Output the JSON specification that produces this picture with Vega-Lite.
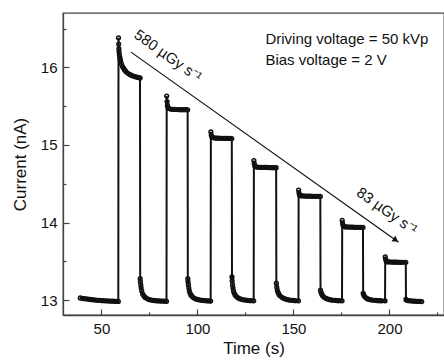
{
  "$schema": "https://vega.github.io/schema/vega-lite/v6.json",
  "autosize": "none",
  "padding": {"left": 63, "top": 13, "right": 0, "bottom": 47},
  "width": 381,
  "height": 302,
  "background": "white",
  "config": {
    "view": {"stroke": "#444", "strokeWidth": 1.3},
    "axis": {
      "grid": false,
      "labelFont": "Liberation Sans",
      "labelFontSize": 15,
      "labelColor": "#111",
      "titleFont": "Liberation Sans",
      "titleFontSize": 17,
      "titleFontWeight": "normal",
      "titleColor": "#111",
      "domainColor": "#444",
      "domainWidth": 1.3,
      "tickColor": "#444",
      "tickWidth": 1.2
    }
  },
  "datasets": {
    "series": [
      {"t":39,"c":13.03},{"t":40,"c":13.025},{"t":41,"c":13.02},{"t":42,"c":13.018},{"t":43,"c":13.015},{"t":44,"c":13.01},{"t":45,"c":13.008},{"t":46,"c":13.005},{"t":47,"c":13.002},{"t":48,"c":13.0},{"t":49,"c":12.998},{"t":50,"c":12.996},{"t":51,"c":12.995},{"t":52,"c":12.993},{"t":53,"c":12.992},{"t":54,"c":12.99},{"t":55,"c":12.99},{"t":56,"c":12.988},{"t":57,"c":12.987},{"t":58,"c":12.986},{"t":58.8,"c":12.985},
      {"t":58.9,"c":16.38},{"t":59.0,"c":16.3},{"t":59.1,"c":16.24},{"t":59.2,"c":16.2},{"t":59.4,"c":16.16},{"t":59.6,"c":16.13},{"t":59.8,"c":16.1},{"t":60,"c":16.08},{"t":60.5,"c":16.04},{"t":61,"c":16.01},{"t":61.5,"c":15.99},{"t":62,"c":15.97},{"t":62.5,"c":15.955},{"t":63,"c":15.94},{"t":64,"c":15.92},{"t":65,"c":15.905},{"t":66,"c":15.893},{"t":67,"c":15.884},{"t":68,"c":15.876},{"t":69,"c":15.87},{"t":70,"c":15.865},{"t":70.1,"c":15.862},
      {"t":70.2,"c":13.28},{"t":70.3,"c":13.24},{"t":70.5,"c":13.2},{"t":70.7,"c":13.16},{"t":71,"c":13.12},{"t":71.5,"c":13.08},{"t":72,"c":13.06},{"t":72.5,"c":13.045},{"t":73,"c":13.033},{"t":74,"c":13.018},{"t":75,"c":13.008},{"t":76,"c":13.002},{"t":77,"c":12.998},{"t":78,"c":12.995},{"t":79,"c":12.993},{"t":80,"c":12.991},{"t":81,"c":12.99},{"t":82,"c":12.989},{"t":83,"c":12.988},{"t":83.9,"c":12.987},
      {"t":84.0,"c":15.63},{"t":84.2,"c":15.56},{"t":84.4,"c":15.51},{"t":84.7,"c":15.48},{"t":85,"c":15.47},{"t":86,"c":15.462},{"t":87,"c":15.46},{"t":88,"c":15.458},{"t":89,"c":15.457},{"t":90,"c":15.456},{"t":91,"c":15.455},{"t":92,"c":15.455},{"t":93,"c":15.454},{"t":94,"c":15.454},{"t":94.9,"c":15.453},
      {"t":95.0,"c":13.28},{"t":95.1,"c":13.24},{"t":95.3,"c":13.2},{"t":95.5,"c":13.16},{"t":95.8,"c":13.12},{"t":96.2,"c":13.09},{"t":96.7,"c":13.065},{"t":97.2,"c":13.05},{"t":98,"c":13.032},{"t":99,"c":13.018},{"t":100,"c":13.01},{"t":101,"c":13.004},{"t":102,"c":13.0},{"t":103,"c":12.997},{"t":104,"c":12.995},{"t":105,"c":12.993},{"t":106,"c":12.991},{"t":106.9,"c":12.99},
      {"t":107.0,"c":15.17},{"t":107.2,"c":15.13},{"t":107.5,"c":15.105},{"t":108,"c":15.095},{"t":109,"c":15.09},{"t":110,"c":15.088},{"t":111,"c":15.087},{"t":112,"c":15.086},{"t":113,"c":15.086},{"t":114,"c":15.085},{"t":115,"c":15.085},{"t":116,"c":15.084},{"t":117,"c":15.084},{"t":117.9,"c":15.083},
      {"t":118.0,"c":13.3},{"t":118.1,"c":13.25},{"t":118.3,"c":13.2},{"t":118.5,"c":13.16},{"t":118.8,"c":13.12},{"t":119.2,"c":13.09},{"t":119.7,"c":13.065},{"t":120.2,"c":13.05},{"t":121,"c":13.033},{"t":122,"c":13.02},{"t":123,"c":13.012},{"t":124,"c":13.006},{"t":125,"c":13.002},{"t":126,"c":12.999},{"t":127,"c":12.996},{"t":128,"c":12.994},{"t":129.3,"c":12.992},
      {"t":129.4,"c":14.8},{"t":129.6,"c":14.76},{"t":129.9,"c":14.73},{"t":130.3,"c":14.72},{"t":131,"c":14.715},{"t":132,"c":14.713},{"t":133,"c":14.712},{"t":134,"c":14.711},{"t":135,"c":14.71},{"t":136,"c":14.71},{"t":137,"c":14.709},{"t":138,"c":14.709},{"t":139,"c":14.708},{"t":140,"c":14.708},{"t":141,"c":14.707},
      {"t":141.1,"c":13.22},{"t":141.3,"c":13.17},{"t":141.6,"c":13.13},{"t":142,"c":13.1},{"t":142.5,"c":13.075},{"t":143,"c":13.058},{"t":144,"c":13.038},{"t":145,"c":13.024},{"t":146,"c":13.014},{"t":147,"c":13.008},{"t":148,"c":13.003},{"t":149,"c":13.0},{"t":150,"c":12.997},{"t":151,"c":12.995},{"t":152.6,"c":12.993},
      {"t":152.7,"c":14.42},{"t":152.9,"c":14.38},{"t":153.2,"c":14.355},{"t":153.6,"c":14.348},{"t":154,"c":14.345},{"t":155,"c":14.343},{"t":156,"c":14.342},{"t":157,"c":14.341},{"t":158,"c":14.34},{"t":159,"c":14.34},{"t":160,"c":14.339},{"t":161,"c":14.339},{"t":162,"c":14.338},{"t":163,"c":14.338},{"t":164,"c":14.337},
      {"t":164.1,"c":13.13},{"t":164.4,"c":13.1},{"t":164.8,"c":13.075},{"t":165.3,"c":13.055},{"t":166,"c":13.038},{"t":167,"c":13.024},{"t":168,"c":13.014},{"t":169,"c":13.008},{"t":170,"c":13.003},{"t":171,"c":13.0},{"t":172,"c":12.997},{"t":173,"c":12.995},{"t":174,"c":12.994},{"t":175.3,"c":12.993},
      {"t":175.4,"c":14.03},{"t":175.6,"c":13.99},{"t":175.9,"c":13.96},{"t":176.3,"c":13.95},{"t":177,"c":13.945},{"t":178,"c":13.944},{"t":179,"c":13.943},{"t":180,"c":13.942},{"t":181,"c":13.941},{"t":182,"c":13.94},{"t":183,"c":13.94},{"t":184,"c":13.939},{"t":185,"c":13.939},{"t":186.2,"c":13.938},
      {"t":186.3,"c":13.09},{"t":186.6,"c":13.07},{"t":187,"c":13.05},{"t":187.6,"c":13.035},{"t":188.3,"c":13.022},{"t":189,"c":13.014},{"t":190,"c":13.007},{"t":191,"c":13.003},{"t":192,"c":13.0},{"t":193,"c":12.997},{"t":194,"c":12.995},{"t":195,"c":12.994},{"t":196,"c":12.993},{"t":197.7,"c":12.992},
      {"t":197.8,"c":13.56},{"t":198,"c":13.53},{"t":198.3,"c":13.505},{"t":198.7,"c":13.497},{"t":199,"c":13.495},{"t":200,"c":13.493},{"t":201,"c":13.492},{"t":202,"c":13.491},{"t":203,"c":13.49},{"t":204,"c":13.49},{"t":205,"c":13.489},{"t":206,"c":13.489},{"t":207,"c":13.488},{"t":208.5,"c":13.488},
      {"t":208.6,"c":13.01},{"t":209,"c":13.0},{"t":210,"c":12.995},{"t":211,"c":12.992},{"t":212,"c":12.99},{"t":213,"c":12.988},{"t":214,"c":12.986},{"t":215,"c":12.985},{"t":216,"c":12.984},{"t":216.8,"c":12.983}
    ],
    "arrow": [{"t":65.4,"c":16.196,"t2":204.8,"c2":13.746}],
    "head": [{"t":203.3,"c":13.775}],
    "rates": [
      {"t":84.7,"c":16.15,"label":"580 µGy s⁻¹"},
      {"t":198.75,"c":14.15,"label":"83 µGy s⁻¹"}
    ],
    "info": [
      {"t":135.4,"c":16.36,"label":"Driving voltage = 50 kVp"},
      {"t":135.4,"c":16.09,"label":"Bias voltage = 2 V"}
    ]
  },
  "resolve": {"axis": {"x": "independent", "y": "independent"}},
  "layer": [
    {
      "data": {"name": "series"},
      "mark": {"type": "line", "color": "#111", "strokeWidth": 2, "point": {"filled": false, "size": 14, "color": "#111", "strokeWidth": 1.5}},
      "encoding": {
        "x": {"field": "t", "type": "quantitative", "scale": {"domain": [30, 228.4], "nice": false, "zero": false},
              "axis": {"orient": "bottom", "title": "Time (s)", "values": [50, 100, 150, 200], "tickSize": -6, "labelPadding": 12, "titlePadding": 4}},
        "y": {"field": "c", "type": "quantitative", "scale": {"domain": [12.81, 16.7], "nice": false, "zero": false},
              "axis": {"orient": "left", "title": "Current (nA)", "values": [13, 14, 15, 16], "tickSize": -6, "labelPadding": 12, "titlePadding": 11}}
      }
    },
    {
      "data": {"name": "arrow"},
      "mark": {"type": "rule", "color": "#111", "strokeWidth": 1.2},
      "encoding": {
        "x": {"field": "t", "type": "quantitative", "scale": {"domain": [30, 228.4], "nice": false, "zero": false}, "axis": null},
        "y": {"field": "c", "type": "quantitative", "scale": {"domain": [12.81, 16.7], "nice": false, "zero": false}, "axis": null},
        "x2": {"field": "t2"},
        "y2": {"field": "c2"}
      }
    },
    {
      "data": {"name": "head"},
      "mark": {"type": "point", "shape": "triangle-right", "angle": 35.4, "size": 45, "filled": true, "color": "#111", "opacity": 1},
      "encoding": {
        "x": {"field": "t", "type": "quantitative", "scale": {"domain": [30, 228.4], "nice": false, "zero": false},
              "axis": {"orient": "bottom", "title": null, "values": [75, 125, 175, 225], "labels": false, "domain": false, "tickSize": -3}},
        "y": {"field": "c", "type": "quantitative", "scale": {"domain": [12.81, 16.7], "nice": false, "zero": false},
              "axis": {"orient": "left", "title": null, "values": [13.5, 14.5, 15.5, 16.5], "labels": false, "domain": false, "tickSize": -3}}
      }
    },
    {
      "data": {"name": "rates"},
      "mark": {"type": "text", "angle": 35.4, "font": "Liberation Sans", "fontSize": 15, "color": "#111", "align": "center", "baseline": "middle"},
      "encoding": {
        "x": {"field": "t", "type": "quantitative", "scale": {"domain": [30, 228.4], "nice": false, "zero": false}, "axis": null},
        "y": {"field": "c", "type": "quantitative", "scale": {"domain": [12.81, 16.7], "nice": false, "zero": false}, "axis": null},
        "text": {"field": "label"}
      }
    },
    {
      "data": {"name": "info"},
      "mark": {"type": "text", "font": "Liberation Sans", "fontSize": 15, "color": "#111", "align": "left", "baseline": "middle"},
      "encoding": {
        "x": {"field": "t", "type": "quantitative", "scale": {"domain": [30, 228.4], "nice": false, "zero": false}, "axis": null},
        "y": {"field": "c", "type": "quantitative", "scale": {"domain": [12.81, 16.7], "nice": false, "zero": false}, "axis": null},
        "text": {"field": "label"}
      }
    }
  ]
}
